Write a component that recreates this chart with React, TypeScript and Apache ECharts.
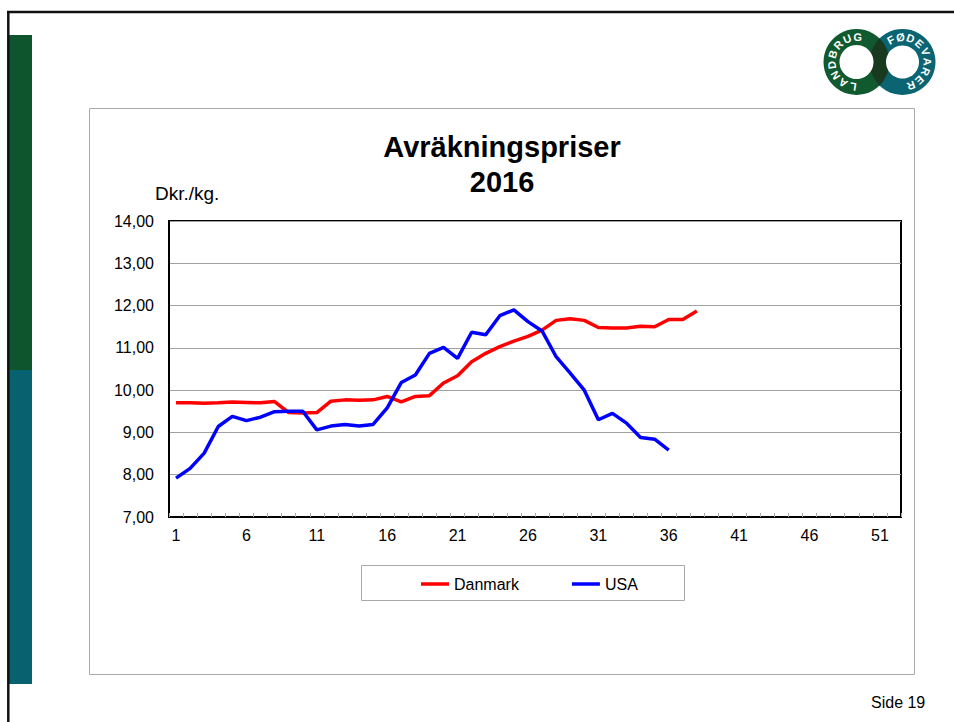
import React, { useEffect, useRef } from "react";
import * as echarts from "echarts";

const weeks = [
  "1","2","3","4","5","6","7","8","9","10","11","12","13","14","15","16","17","18","19","20",
  "21","22","23","24","25","26","27","28","29","30","31","32","33","34","35","36","37","38","39","40",
  "41","42","43","44","45","46","47","48","49","50","51","52",
];

const danmark = [
  9.70, 9.70, 9.69, 9.70, 9.72, 9.71, 9.70, 9.73, 9.47, 9.46,
  9.47, 9.74, 9.77, 9.76, 9.77, 9.85, 9.72, 9.85, 9.87, 10.17,
  10.34, 10.67, 10.87, 11.03, 11.16, 11.27, 11.42, 11.65, 11.69, 11.65,
  11.48, 11.47, 11.47, 11.51, 11.50, 11.67, 11.67, 11.87,
];

const usa = [
  7.92, 8.15, 8.51, 9.14, 9.38, 9.28, 9.36, 9.49, 9.50, 9.50,
  9.06, 9.15, 9.19, 9.15, 9.19, 9.58, 10.18, 10.36, 10.87, 11.01,
  10.75, 11.37, 11.31, 11.76, 11.90, 11.62, 11.40, 10.79, 10.40, 10.00,
  9.30, 9.45, 9.22, 8.88, 8.84, 8.58,
];

const seriesNames = ["Danmark", "USA"];
const titleLines = ["Avräkningspriser", "2016"];
const unitLabel = "Dkr./kg.";
const pageLabel = "Side 19";

const FONT = "'Liberation Sans', Arial, Helvetica, sans-serif";

let lensRegistered = false;
function registerLens() {
  if (lensRegistered) return;
  const d = "M879.5,38.34 A33,33 0 0,1 879.5,85.66 A33,33 0 0,1 879.5,38.34 Z";
  echarts.graphic.registerShape("logoLens", echarts.graphic.extendPath(d, {}) as any);
  lensRegistered = true;
}

function ringLetters(text: string, cx: number, cy: number, r: number, start: number, step: number) {
  return text.split("").map((ch, i) => {
    const deg = start + i * step;
    const t = (deg * Math.PI) / 180;
    return {
      type: "text",
      x: cx + r * Math.sin(t),
      y: cy - r * Math.cos(t),
      rotation: -t,
      z: 110,
      style: {
        text: ch,
        x: 0,
        y: 0,
        fill: "#ffffff",
        fontSize: 11,
        fontWeight: "bold",
        fontFamily: FONT,
        textAlign: "center",
        textVerticalAlign: "middle",
        align: "center",
        verticalAlign: "middle",
      },
    };
  });
}

export default function App() {
  const ref = useRef<HTMLDivElement>(null);

  useEffect(() => {
    if (!ref.current) return;
    registerLens();
    const chart = echarts.init(ref.current, undefined, { renderer: "svg" });

    const gCx = 856.5, tCx = 902.5, cy = 62;

    const option: any = {
      animation: false,
      backgroundColor: "#ffffff",
      textStyle: { fontFamily: FONT },
      grid: {
        left: 169,
        top: 221,
        right: 53,
        bottom: 205,
        show: true,
        borderColor: "#000000",
        borderWidth: 2,
        backgroundColor: "transparent",
      },
      legend: {
        data: seriesNames,
        left: 416,
        top: 571,
        icon: "rect",
        itemWidth: 28,
        itemHeight: 3.5,
        itemGap: 53,
        textStyle: { fontSize: 16, color: "#000000", fontFamily: FONT },
      },
      xAxis: {
        type: "category",
        data: weeks,
        boundaryGap: true,
        axisLine: { lineStyle: { color: "#000000", width: 2 } },
        axisTick: { show: true, inside: true, length: 4, interval: 0, lineStyle: { color: "#aaaaaa" } },
        axisLabel: { interval: 4, fontSize: 16, color: "#000000", margin: 10, fontFamily: FONT },
        splitLine: { show: false },
      },
      yAxis: {
        type: "value",
        min: 7,
        max: 14,
        interval: 1,
        axisLine: { show: true, lineStyle: { color: "#000000", width: 2 } },
        axisTick: { show: false },
        axisLabel: {
          fontSize: 16,
          color: "#000000",
          margin: 15,
          fontFamily: FONT,
          formatter: (v: number) => v.toFixed(2).replace(".", ","),
        },
        splitLine: { show: true, lineStyle: { color: "#a0a0a0", width: 1 } },
      },
      series: [
        {
          name: seriesNames[0],
          type: "line",
          data: danmark,
          symbol: "none",
          showSymbol: false,
          color: "#ff0000",
          lineStyle: { color: "#ff0000", width: 3.5 },
          z: 3,
        },
        {
          name: seriesNames[1],
          type: "line",
          data: usa,
          symbol: "none",
          showSymbol: false,
          color: "#0000ff",
          lineStyle: { color: "#0000ff", width: 3.5 },
          z: 4,
        },
      ],
      graphic: [
        // page frame
        { type: "line", z: 100, shape: { x1: 7, y1: 12, x2: 954, y2: 12 }, style: { stroke: "#111111", lineWidth: 2.5 } },
        { type: "line", z: 100, shape: { x1: 8.3, y1: 11, x2: 8.3, y2: 722 }, style: { stroke: "#111111", lineWidth: 2.5 } },
        // left bars
        { type: "rect", z: 99, shape: { x: 9, y: 35, width: 23, height: 335 }, style: { fill: "#0e552e" } },
        { type: "rect", z: 99, shape: { x: 9, y: 370, width: 23, height: 314 }, style: { fill: "#08616e" } },
        // chart box
        { type: "rect", z: 1, shape: { x: 89.5, y: 108.5, width: 825, height: 566 }, style: { fill: "none", stroke: "#aaaaaa", lineWidth: 1 } },
        // legend box
        { type: "rect", z: 1, shape: { x: 361.5, y: 565.5, width: 323, height: 35 }, style: { fill: "none", stroke: "#aaaaaa", lineWidth: 1 } },
        // titles
        {
          type: "text", z: 100, x: 502, y: 147,
          style: { text: titleLines[0], fill: "#000000", fontSize: 29, fontWeight: "bold", fontFamily: FONT, textAlign: "center", textVerticalAlign: "middle", align: "center", verticalAlign: "middle" },
        },
        {
          type: "text", z: 100, x: 502, y: 182,
          style: { text: titleLines[1], fill: "#000000", fontSize: 29, fontWeight: "bold", fontFamily: FONT, textAlign: "center", textVerticalAlign: "middle", align: "center", verticalAlign: "middle" },
        },
        {
          type: "text", z: 100, x: 155, y: 193,
          style: { text: unitLabel, fill: "#000000", fontSize: 19, fontFamily: FONT, textAlign: "left", textVerticalAlign: "middle", align: "left", verticalAlign: "middle" },
        },
        {
          type: "text", z: 100, x: 871, y: 702,
          style: { text: pageLabel, fill: "#000000", fontSize: 16, fontFamily: FONT, textAlign: "left", textVerticalAlign: "middle", align: "left", verticalAlign: "middle" },
        },
        // logo
        { type: "circle", z: 101, shape: { cx: gCx, cy, r: 33 }, style: { fill: "#11592f" } },
        { type: "circle", z: 102, shape: { cx: tCx, cy, r: 33 }, style: { fill: "#0b6472" } },
        { type: "logoLens", z: 103, x: 0, y: 0, style: { fill: "#1a3a20" } },
        { type: "circle", z: 104, shape: { cx: gCx, cy, r: 17 }, style: { fill: "#ffffff" } },
        { type: "circle", z: 104, shape: { cx: tCx, cy, r: 16.5 }, style: { fill: "#ffffff" } },
        ...ringLetters("LANDBRUG", gCx, cy, 25, 188, 25),
        ...ringLetters("FØDEVARER", tCx, cy, 25, -28, 23.5),
      ],
    };

    chart.setOption(option);
    return () => {
      chart.dispose();
    };
  }, []);

  return (
    <div
      ref={ref}
      style={{ position: "absolute", left: 0, top: 0, width: 954, height: 722 }}
    />
  );
}
